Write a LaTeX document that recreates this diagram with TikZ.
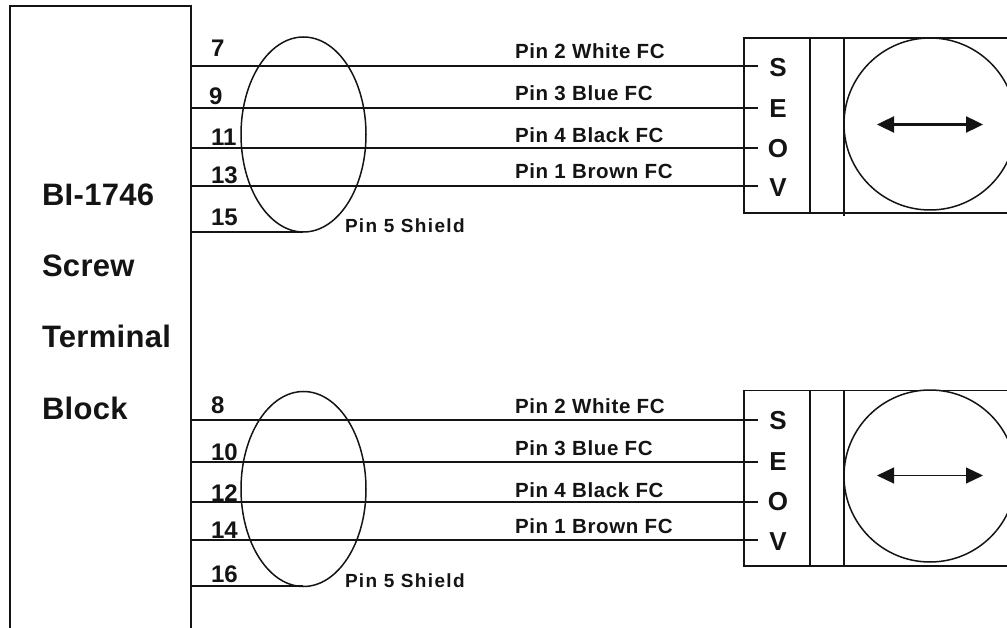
\documentclass[tikz,border=0pt]{standalone}
\usepackage{fontspec}
\setmainfont{Liberation Sans}
\usetikzlibrary{shapes.geometric,arrows.meta}
\definecolor{ink}{gray}{0.08}
\tikzset{
  every node/.style={inner sep=0pt,outer sep=0pt,text=ink},
  wire/.style={line width=1.7pt},
  shield/.style={draw,ellipse,minimum width=125pt,minimum height=195pt,line width=1.5pt},
  hole/.style={draw,circle,minimum size=172pt,line width=1.5pt},
  term/.style={font=\fontsize{26}{26}\selectfont\bfseries,anchor=base},
  pinlabel/.style={font=\fontsize{20.5}{21}\selectfont\bfseries\addfontfeatures{LetterSpace=3},anchor=base west},
  shieldlabel/.style={font=\fontsize{19}{19}\selectfont\bfseries\addfontfeatures{LetterSpace=7},anchor=base west},
  num/.style={font=\fontsize{24}{24}\selectfont\bfseries,anchor=base west},
  blocklabel/.style={font=\fontsize{31}{31}\selectfont\bfseries\addfontfeatures{LetterSpace=1},anchor=base west},
  dbl/.style={{Triangle[length=17pt,width=16pt]}-{Triangle[length=17pt,width=16pt]},line width=2.4pt},
  dblthin/.style={dbl,line width=1.2pt}
}
\begin{document}
\begin{tikzpicture}[x=1pt,y=-1pt,line width=1.8pt,draw=ink]
\useasboundingbox (0,0) rectangle (1007,628);
% terminal block
\coordinate (bBL) at (10,628);
\coordinate (bTL) at (10,6);
\coordinate (bTR) at (191,6);
\coordinate (bBR) at (191,628);
\draw (bBL) -- (bTL) -- (bTR) -- (bBR);
\node[blocklabel] (t1) at (42,206) {BI-1746};
\node[blocklabel] (t2) at (42,277) {Screw};
\node[blocklabel] (t3) at (42,348) {Terminal};
\node[blocklabel] (t4) at (42,419) {Block};

% upper group
\draw (1007,38) coordinate (a1) -- (744,38) coordinate (a2) -- (744,213) coordinate (a3) -- (1007,213) coordinate (a4);
\draw (810,38) coordinate (a5) -- (810,213) coordinate (a6);
\draw (844,38) coordinate (a7) -- (844,216) coordinate (a8);
\node[hole] (hA) at (930,124) {};
\coordinate (hAl) at (877,124.5);
\coordinate (hAr) at (983,124.5);
\draw[dbl] (hAl) -- (hAr);
\node[shield] (eA) at (303.5,134.5) {};
\foreach \n/\y/\tail/\lab/\ty/\tb in {7/66/S/Pin 2 White FC/59/77, 9/108/E/Pin 3 Blue FC/101/118, 11/148/O/Pin 4 Black FC/143/158, 13/186/V/Pin 1 Brown FC/179/197}{
  \coordinate (wa\n) at (191,\y);
  \coordinate (ea\n) at (758,\y);
  \draw[wire] (wa\n) -- (ea\n);
  \node[pinlabel] (la\n) at (515,\ty) {\lab};
  \node[term] (ta\n) at (778,\tb) {\tail};
}
\node[num] (n7) at (211,57) {7};
\node[num] (n9) at (209,105) {9};
\node[num] (n11) at (211,146) {11};
\node[num] (n13) at (211,184) {13};
\node[num] (n15) at (211,226) {15};
\coordinate (wa15) at (191,232);
\coordinate (ea15) at (303,232);
\draw[wire] (wa15) -- (ea15);
\node[shieldlabel] (sA) at (345,233) {Pin 5 Shield};

% lower group
\draw (1007,390.5) coordinate (b1) -- (744,390.5) coordinate (b2) -- (744,566) coordinate (b3) -- (1007,566) coordinate (b4);
\draw (810,390.5) coordinate (b5) -- (810,566) coordinate (b6);
\draw (844,390.5) coordinate (b7) -- (844,566) coordinate (b8);
\node[hole] (hB) at (930,476) {};
\coordinate (hBl) at (877,475.5);
\coordinate (hBr) at (983,475.5);
\draw[dblthin] (hBl) -- (hBr);
\node[shield] (eB) at (303.5,489) {};
\foreach \n/\y/\tail/\lab/\ty/\tb in {8/420/S/Pin 2 White FC/413/429, 10/462/E/Pin 3 Blue FC/455/470, 12/502/O/Pin 4 Black FC/497/510, 14/540/V/Pin 1 Brown FC/533/550}{
  \coordinate (wb\n) at (191,\y);
  \coordinate (eb\n) at (758,\y);
  \draw[wire] (wb\n) -- (eb\n);
  \node[pinlabel] (lb\n) at (515,\ty) {\lab};
  \node[term] (tb\n) at (778,\tb) {\tail};
}
\node[num] (n8) at (211,413) {8};
\node[num] (n10) at (211,460) {10};
\node[num] (n12) at (211,501) {12};
\node[num] (n14) at (211,538) {14};
\node[num] (n16) at (211,582) {16};
\coordinate (wb16) at (191,586);
\coordinate (eb16) at (303,586);
\draw[wire] (wb16) -- (eb16);
\node[shieldlabel] (sB) at (345,587) {Pin 5 Shield};
\end{tikzpicture}
\end{document}
